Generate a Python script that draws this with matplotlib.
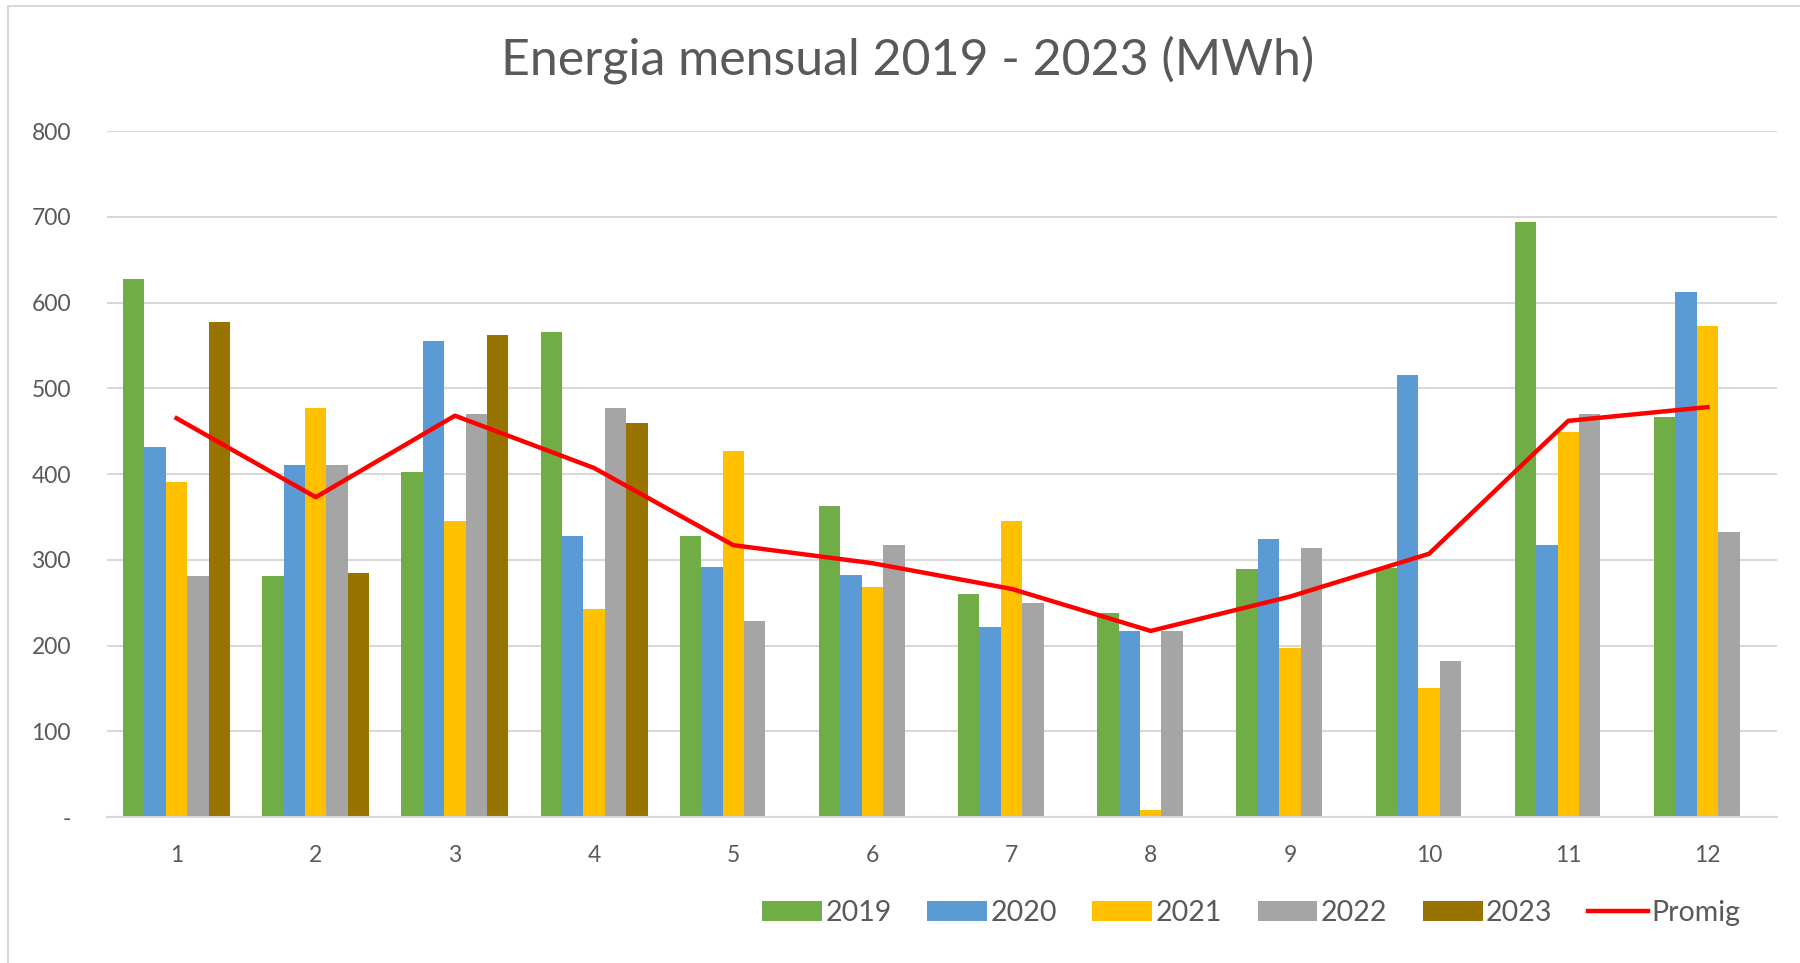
import numpy as np
import matplotlib
matplotlib.use("Agg")
import matplotlib.pyplot as plt
from matplotlib.patches import Rectangle

plt.rcParams['font.family'] = ['Lato', 'DejaVu Sans']

# Dades mensuals (MWh)
mesos = [1, 2, 3, 4, 5, 6, 7, 8, 9, 10, 11, 12]
e2019 = [627, 281, 402, 566, 328, 363, 260, 238, 289, 290, 694, 467]
e2020 = [431, 410, 555, 328, 292, 282, 222, 217, 324, 516, 317, 612]
e2021 = [391, 477, 345, 242, 427, 268, 345, 8, 197, 150, 449, 573]
e2022 = [281, 410, 470, 477, 228, 317, 250, 217, 314, 182, 470, 332]
e2023 = [577, 285, 562, 460, np.nan, np.nan, np.nan, np.nan, np.nan, np.nan, np.nan, np.nan]
promig = [465, 373, 468, 407, 317, 296, 266, 217, 257, 307, 462, 478]

anys = ['2019', '2020', '2021', '2022', '2023']
series = [e2019, e2020, e2021, e2022, e2023]
colors = ['#70AD47', '#5B9BD5', '#FFC000', '#A5A5A5', '#997300']

fig = plt.figure(figsize=(18, 9.63), dpi=100)
ax = fig.add_axes([107 / 1800, 1 - 817 / 963, 1670 / 1800, 686 / 963])

# marc del gràfic
fig.patches.append(Rectangle((8 / 1800, -0.1), 1.2, 1 - 6 / 963 + 0.1,
                             transform=fig.transFigure, fill=False,
                             edgecolor='#D9D9D9', linewidth=1.5))

x = np.arange(len(mesos))
w = 0.154
handles = []
for i, (serie, color, nom) in enumerate(zip(series, colors, anys)):
    b = ax.bar(x + (i - 2) * w, serie, width=w, color=color, label=nom, zorder=2)
    handles.append(b)

linia, = ax.plot(x, promig, color='#FF0000', linewidth=3.2, label='Promig', zorder=3)
handles.append(linia)

ax.set_xlim(-0.5, len(mesos) - 0.5)
ax.set_ylim(0, 800)
ax.set_yticks(range(0, 801, 100))
ax.set_yticklabels(['-'] + [str(v) for v in range(100, 801, 100)])
ax.set_xticks(x)
ax.set_xticklabels([str(m) for m in mesos])

ax.grid(axis='y', color='#D9D9D9', linewidth=1.5, zorder=0)
ax.set_axisbelow(True)
for s in ['top', 'right', 'left']:
    ax.spines[s].set_visible(False)
ax.spines['bottom'].set_color('#D9D9D9')
ax.spines['bottom'].set_linewidth(1.5)
ax.tick_params(axis='both', length=0, colors='#595959', labelsize=16.5)
ax.tick_params(axis='y', pad=26)
ax.tick_params(axis='x', pad=20)

fig.text(908 / 1800, 1 - 60 / 963, 'Energia mensual 2019 - 2023 (MWh)',
         ha='center', va='center', fontsize=36, color='#595959')

leg = fig.legend(handles=handles, labels=anys + ['Promig'],
                 loc='center right', bbox_to_anchor=(1766 / 1800, 1 - 913 / 963),
                 ncol=6, frameon=False, fontsize=20.5, handlelength=2.1,
                 handleheight=0.7, handletextpad=0.12, columnspacing=1.25)
for t in leg.get_texts():
    t.set_color('#595959')

fig.savefig('out.png', dpi=100, facecolor='white')
